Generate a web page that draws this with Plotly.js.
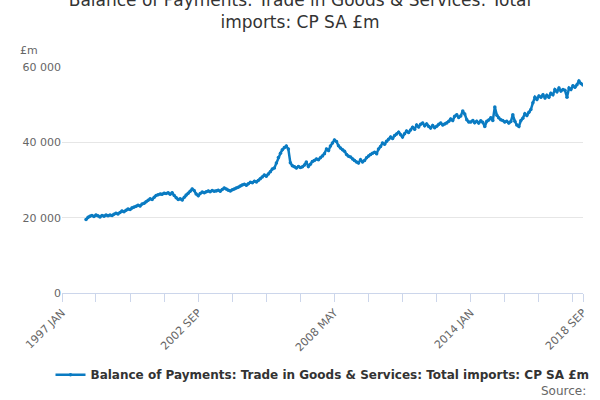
<!DOCTYPE html>
<html>
<head>
<meta charset="utf-8">
<script src="https://cdn.plot.ly/plotly-3.0.1.min.js"></script>
<style>html,body{margin:0;padding:0;background:#fff}#chart{width:600px;height:400px}</style>
</head>
<body>
<div id="chart"></div>
<script>
// Monthly values in £bn (x1000 = £m), Jan 1998 .. Sep 2018
const v1998 = [19.5,20.1,20.4,20.6,20.3,20.7,20.5,20.2,20.6,20.4,20.7,20.5];
const v1999 = [20.7,20.6,20.9,21.2,21.0,21.4,21.8,21.6,22.0,22.3,22.2,22.6];
const v2000 = [22.8,23.0,23.3,23.1,23.6,23.8,24.2,24.6,25.0,24.8,25.4,25.9];
const v2001 = [26.1,26.3,26.2,26.5,26.4,26.6,26.2,26.6,25.9,25.3,24.8,25.0];
const v2002 = [24.7,25.4,26.0,26.5,27.0,27.6,27.2,26.3,25.8,26.4,26.8,26.6];
const v2003 = [26.9,27.1,26.9,27.2,27.0,27.1,27.3,27.0,27.5,27.9,27.6,27.3];
const v2004 = [27.1,27.4,27.6,27.9,28.1,28.4,28.7,28.9,28.6,29.0,29.4,29.3];
const v2005 = [29.7,29.5,29.9,30.3,30.8,31.3,31.0,31.6,32.2,32.9,33.2,34.5];
const v2006 = [36.0,37.1,38.0,38.6,39.0,38.2,34.6,33.8,33.5,33.2,33.6,33.3];
const v2007 = [33.5,34.0,34.8,33.6,34.2,34.9,35.2,35.6,35.4,35.9,36.4,37.0];
const v2008 = [38.2,37.8,39.0,39.8,40.6,40.2,39.1,38.5,38.0,37.6,36.8,36.3];
const v2009 = [36.1,35.6,35.2,34.8,34.5,35.4,34.8,35.2,35.9,36.4,36.8,37.1];
const v2010 = [37.4,37.0,38.2,38.9,39.8,39.5,40.3,40.8,41.4,41.0,41.8,42.2];
const v2011 = [42.7,42.0,41.4,42.3,43.0,42.6,43.3,44.0,43.5,44.6,44.1,44.8];
const v2012 = [45.1,44.4,44.9,44.2,43.8,44.5,43.9,44.3,44.8,45.1,44.6,44.9];
const v2013 = [45.1,45.6,46.2,45.8,46.9,47.3,46.6,47.0,48.3,47.5,46.0,45.4];
const v2014 = [45.4,45.8,45.2,45.6,45.1,45.7,45.3,44.2,45.6,45.9,46.5,45.8];
const v2015 = [49.4,47.2,46.5,46.0,45.8,45.4,45.6,45.1,45.5,47.3,45.6,44.6];
const v2016 = [44.2,45.8,46.4,47.6,47.1,48.0,48.7,50.5,52.0,51.4,52.3,52.0];
const v2017 = [52.6,51.8,52.5,52.0,53.0,52.6,54.0,53.4,54.4,53.6,54.0,53.8];
const v2018 = [52.0,54.4,54.0,55.0,54.6,55.3,56.3,55.6,55.2];

const years = [v1998,v1999,v2000,v2001,v2002,v2003,v2004,v2005,v2006,v2007,v2008,
  v2009,v2010,v2011,v2012,v2013,v2014,v2015,v2016,v2017,v2018];
const monthNames = ['JAN','FEB','MAR','APR','MAY','JUN','JUL','AUG','SEP','OCT','NOV','DEC'];

const x = [], y = [];
years.forEach((vals, i) => {
  vals.forEach((val, m) => {
    x.push(`${1998 + i}-${String(m + 1).padStart(2, '0')}-01`);
    y.push(Math.round(val * 1000));
  });
});

// tick every 17 months from 1997 JAN, label every 4th
const tickvals = [], ticktext = [];
for (let k = 0; k <= 260; k += 17) {
  const yr = 1997 + Math.floor(k / 12), mo = k % 12;
  tickvals.push(`${yr}-${String(mo + 1).padStart(2, '0')}-01`);
  ticktext.push(k % 68 === 0 ? `${yr} ${monthNames[mo]}` : '');
}
tickvals.push('2018-09-01'); ticktext.push('2018 SEP');

const data = [{
  type: 'scatter', mode: 'lines+markers', x, y,
  name: 'Balance of Payments: Trade in Goods & Services: Total imports: CP SA £m',
  line: { color: '#0a7bc2', width: 2.5 },
  marker: { color: '#0a7bc2', size: 3.5 },
}];

const layout = {
  width: 600, height: 400,
  paper_bgcolor: '#fff', plot_bgcolor: '#fff',
  font: { family: 'DejaVu Sans, sans-serif', color: '#666', size: 11 },
  margin: { l: 62, r: 17, t: 67, b: 107, autoexpand: false },
  title: { text: 'Balance of Payments: Trade in Goods & Services: Total<br>imports: CP SA £m',
    x: 0.5, xanchor: 'center', yref: 'container', y: 0.985, yanchor: 'top',
    automargin: false, font: { size: 17, color: '#333' } },
  xaxis: {
    type: 'date', range: ['1997-01-01', '2018-09-01'],
    tickmode: 'array', tickvals, ticktext, tickangle: -45,
    ticks: 'outside', ticklen: 8, tickcolor: '#ccd6eb',
    showline: true, linecolor: '#ccd6eb', showgrid: false, zeroline: false,
  },
  yaxis: {
    range: [0, 60000], tickvals: [0, 20000, 40000, 60000],
    ticktext: ['0', '20 000', '40 000', '60 000'],
    gridcolor: '#e6e6e6', zeroline: false, showline: false,
  },
  showlegend: true,
  legend: { orientation: 'h', x: 0.5, xanchor: 'center', yref: 'container', y: 0.063, yanchor: 'middle',
    font: { size: 12, color: '#333', weight: 'bold' } },
  annotations: [
    { text: '£m', xref: 'paper', yref: 'paper', x: -0.085, y: 1.11, xanchor: 'left',
      showarrow: false, font: { size: 11, color: '#666' } },
    { text: 'Source:', xref: 'paper', yref: 'paper', x: 1.01, y: -0.395, xanchor: 'right',
      yanchor: 'top', showarrow: false, font: { size: 12, color: '#666' } },
  ],
};

Plotly.newPlot('chart', data, layout, { displayModeBar: false, staticPlot: true });
</script>
</body>
</html>
